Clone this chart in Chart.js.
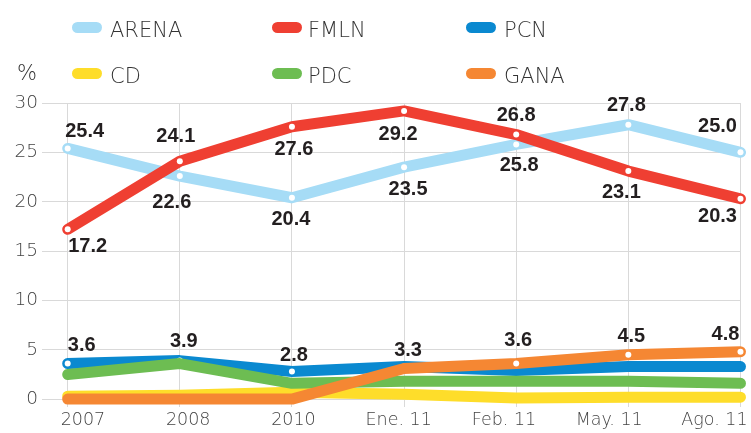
<!DOCTYPE html>
<html>
<head>
<meta charset="utf-8">
<script src="https://cdn.jsdelivr.net/npm/chart.js@4.4.1/dist/chart.umd.min.js"></script>
<style>
  body { margin: 0; background: #fff; }
  #wrap { position: relative; width: 751px; height: 433px; }
  #grafico { position: absolute; left: 0; top: 0; }
  .leyenda { position: absolute; font-family: 'DejaVu Sans', sans-serif; font-weight: 200; font-size: 21px; line-height: 21px; color: #333; white-space: nowrap; }
  .muestra { position: absolute; width: 30px; height: 11px; border-radius: 6px; }
</style>
</head>
<body>
<div id="wrap">
  <canvas id="grafico" width="751" height="433"></canvas>
  <div id="leyenda"></div>
</div>
<script>
// datos
const categorias = ['2007', '2008', '2010', 'Ene. 11', 'Feb. 11', 'May. 11', 'Ago. 11'];
const arena = [25.4, 22.6, 20.4, 23.5, 25.8, 27.8, 25.0];
const fmln = [17.2, 24.1, 27.6, 29.2, 26.8, 23.1, 20.3];
const pcn = [3.6, 3.9, 2.8, 3.3, 2.9, 3.3, 3.3];
const cd = [0.3, 0.4, 0.7, 0.5, 0.1, 0.2, 0.2];
const pdc = [2.5, 3.6, 1.6, 1.8, 1.8, 1.8, 1.6];
const gana = [0, 0, 0, 3.1, 3.6, 4.5, 4.8];
const ticksY = [0, 5, 10, 15, 20, 25, 30];

// donde va cada etiqueta respecto a su punto (null = sin etiqueta)
const posArena = [[17, -17], [-8, 26], [-1, 22], [4, 22], [3, 21], [-2, -19], [-23, -26]];
const posFmln = [[20, 17], [-4, -25], [2, 23], [-6, 24], [0, -19], [-7, 21], [-23, 18]];
const posPcn = [[14, -18], [4, -19], [2, -16], [4, -16], null, null, null];
const posGana = [null, null, null, null, [2, -23], [3, -18], [-15, -17]];

const gris = '#d9d9d9';
const fuenteEje = { family: 'DejaVu Sans', weight: '200', size: 18.5 };
const fuenteX = { family: 'DejaVu Sans', weight: '200', size: 17.5 };

function serie(nombre, valores, color, orden, radios, posEtiquetas) {
    return {
        label: nombre,
        data: valores.map((v, i) => ({ x: i, y: v })),
        borderColor: color,
        backgroundColor: color,
        borderWidth: 11,
        borderCapStyle: 'round',
        borderJoinStyle: 'round',
        tension: 0,
        pointRadius: radios,
        pointBackgroundColor: '#fff',
        pointBorderWidth: 0,
        order: orden,
        clip: false,
        etiquetas: posEtiquetas
    };
}

const datasets = [
    serie('ARENA', arena, '#a6dcf6', 5, 3, posArena),
    serie('FMLN', fmln, '#ef3f32', 0, 3, posFmln),
    serie('PCN', pcn, '#0a89d0', 4, [3, 3, 3, 3, 0, 0, 0], posPcn),
    serie('CD', cd, '#fedd2a', 3, 0, null),
    serie('PDC', pdc, '#6dbd52', 2, 0, null),
    serie('GANA', gana, '#f58733', 1, [0, 0, 0, 0, 3, 3, 3], posGana)
];

// etiquetas de valor en negrita
const pluginEtiquetas = {
    id: 'etiquetas',
    afterDatasetsDraw(chart) {
        const ctx = chart.ctx;
        ctx.save();
        ctx.font = 'bold 20px "Liberation Sans", sans-serif';
        ctx.fillStyle = '#231f20';
        ctx.textAlign = 'center';
        ctx.textBaseline = 'middle';
        chart.data.datasets.forEach((ds, i) => {
            if (!ds.etiquetas) return;
            const meta = chart.getDatasetMeta(i);
            ds.etiquetas.forEach((p, j) => {
                if (!p) return;
                const pt = meta.data[j];
                ctx.fillText(ds.data[j].y.toFixed(1), pt.x + p[0], pt.y + p[1]);
            });
        });
        ctx.restore();
    }
};

new Chart(document.getElementById('grafico'), {
    type: 'line',
    data: { datasets: datasets },
    options: {
        responsive: false,
        animation: false,
        layout: { padding: { top: 103, right: 10, bottom: 0, left: 0 } },
        plugins: { legend: { display: false }, tooltip: { enabled: false } },
        scales: {
            x: {
                type: 'linear',
                min: -0.229,
                max: 6,
                afterBuildTicks: s => { s.ticks = categorias.map((c, i) => ({ value: i })); },
                afterFit: s => { s.height = 0; },
                ticks: { display: false },
                grid: { color: gris, drawTicks: false },
                border: { display: false }
            },
            x2: {
                type: 'linear',
                position: 'bottom',
                min: -0.389,
                max: 6.247,
                afterBuildTicks: s => { s.ticks = categorias.map((c, i) => ({ value: i })); },
                afterFit: s => { s.height = 26; },
                ticks: { callback: v => categorias[v], padding: 3, font: fuenteX, color: '#444', maxRotation: 0, autoSkip: false },
                grid: { display: false, drawTicks: false },
                border: { display: false }
            },
            y: {
                min: -0.8,
                max: 30,
                afterBuildTicks: s => { s.ticks = ticksY.map(v => ({ value: v })); },
                afterFit: s => { s.width = 42; },
                ticks: { padding: 4, font: fuenteEje, color: '#444' },
                grid: { color: gris, drawTicks: false },
                border: { display: false }
            }
        }
    },
    plugins: [pluginEtiquetas]
});

// leyenda en dos filas de tres
const leyenda = document.getElementById('leyenda');
const columnasMuestra = [71.5, 271.5, 466];
const columnasTexto = [110, 308, 504];
const filas = [22, 68];
datasets.forEach((ds, i) => {
    const col = i % 3, fila = Math.floor(i / 3);
    const m = document.createElement('span');
    m.className = 'muestra';
    m.style.left = columnasMuestra[col] + 'px';
    m.style.top = filas[fila] + 'px';
    m.style.background = ds.borderColor;
    leyenda.appendChild(m);
    const t = document.createElement('div');
    t.className = 'leyenda';
    t.style.left = columnasTexto[col] + 'px';
    t.style.top = (filas[fila] - 2) + 'px';
    t.textContent = ds.label;
    leyenda.appendChild(t);
});
const pct = document.createElement('div');
pct.className = 'leyenda';
pct.style.left = '17px';
pct.style.top = '63px';
pct.textContent = '%';
leyenda.appendChild(pct);
</script>
</body>
</html>
